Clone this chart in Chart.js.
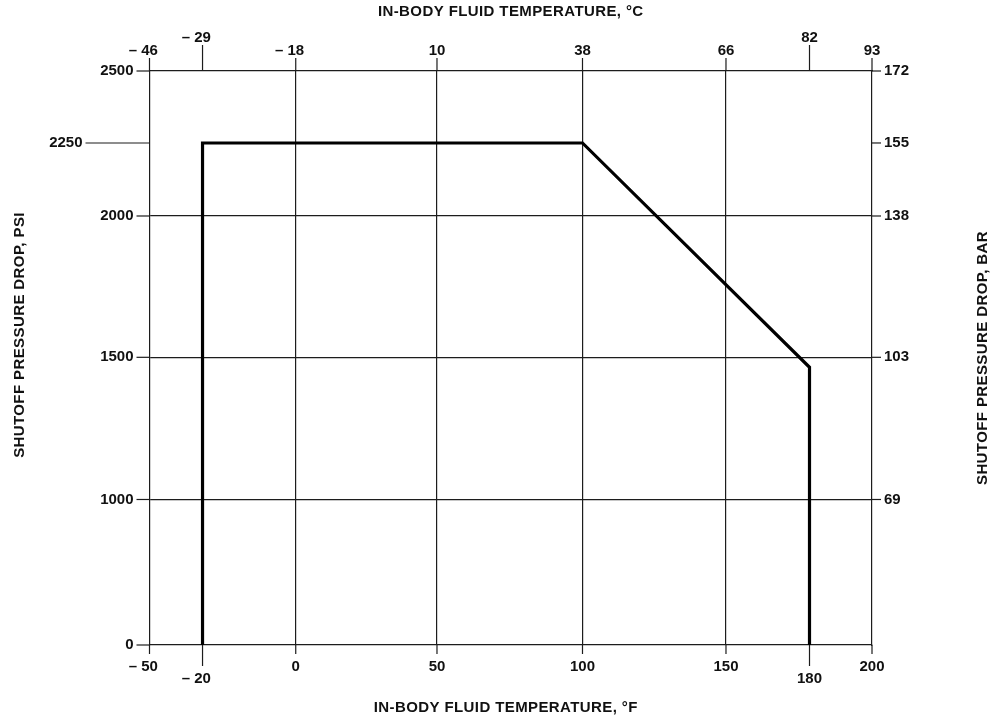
<!DOCTYPE html>
<html>
<head>
<meta charset="utf-8">
<script src="https://cdn.jsdelivr.net/npm/chart.js@4"></script>
<style>
    body { margin: 0; background: #fff; }
    .wrap { width: 993px; height: 719px; position: relative; }
</style>
</head>
<body>
<div class="wrap"><canvas id="shutoffChart"></canvas></div>
<script>
// data
const tempF = [-20, -20, 100, 180, 180];
const shutoffPsi = [0, 2250, 2250, 1465, 0];

// axis ticks
const fTicks = [-50, -20, 0, 50, 100, 150, 180, 200];
const fTickLabels = ['– 50', '– 20', '0', '50', '100', '150', '180', '200'];
const cTickLabels = ['– 46', '– 29', '– 18', '10', '38', '66', '82', '93'];
const psiTicks = [0, 1000, 1500, 2000, 2250, 2500];
const psiTickLabels = ['0', '1000', '1500', '2000', '2250', '2500'];
const barTicks = [1000, 1500, 2000, 2250, 2500];
const barTickLabels = ['69', '103', '138', '155', '172'];

// the printed chart is not evenly spaced, so each scale is piecewise
// (value -> fraction of the axis length)
const axisShapes = {
    temp: {
        values: fTicks,
        fractions: [0, 0.0734, 0.2024, 0.3979, 0.5993, 0.7979, 0.9135, 1],
        grid: [0, 50, 100, 150]
    },
    psi: {
        values: psiTicks,
        fractions: [0, 0.2535, 0.5012, 0.7474, 0.8746, 1],
        grid: [1000, 1500, 2000]
    }
};

function toDecimal(value, shape) {
    const v = shape.values, f = shape.fractions;
    if (value <= v[0]) return f[0];
    for (let i = 1; i < v.length; i++) {
        if (value <= v[i]) {
            const t = (value - v[i - 1]) / (v[i] - v[i - 1]);
            return f[i - 1] + t * (f[i] - f[i - 1]);
        }
    }
    return f[f.length - 1];
}

function fromDecimal(dec, shape) {
    const v = shape.values, f = shape.fractions;
    for (let i = 1; i < f.length; i++) {
        if (dec <= f[i]) {
            const t = (dec - f[i - 1]) / (f[i] - f[i - 1]);
            return v[i - 1] + t * (v[i] - v[i - 1]);
        }
    }
    return v[v.length - 1];
}

class PiecewiseScale extends Chart.LinearScale {
    shape() {
        return axisShapes[this.options.shapeKey];
    }
    buildTicks() {
        return this.shape().grid.map(v => ({ value: v }));
    }
    getPixelForValue(value) {
        return this.getPixelForDecimal(toDecimal(value, this.shape()));
    }
    getValueForPixel(pixel) {
        return fromDecimal(this.getDecimalForPixel(pixel), this.shape());
    }
}
PiecewiseScale.id = 'piecewise';
PiecewiseScale.defaults = Chart.LinearScale.defaults;
Chart.register(PiecewiseScale);

const FONT = 'bold 15px "Liberation Sans", Arial, sans-serif';
const INK = '#111';
const RULE = '#1c1c1c';

function drawLabel(ctx, text, px, py) {
    // digits centred on the tick, a leading minus hangs to the left
    const m = text.match(/^(\D*)(\d+)$/);
    const prefix = m ? m[1] : '';
    const digits = m ? m[2] : text;
    const w = ctx.measureText(digits).width;
    ctx.textAlign = 'center';
    ctx.fillText(digits, px, py);
    if (prefix) {
        ctx.textAlign = 'right';
        ctx.fillText(prefix, px - w / 2, py);
    }
}

function tick(ctx, x1, y1, x2, y2) {
    ctx.beginPath();
    ctx.moveTo(x1, y1);
    ctx.lineTo(x2, y2);
    ctx.stroke();
}

const axisDecor = {
    id: 'axisDecor',
    afterDraw(chart) {
        const { ctx, chartArea: a, scales } = chart;
        const xs = scales.x, ys = scales.y;
        const longTemp = [-20, 180];

        ctx.save();
        ctx.strokeStyle = RULE;
        ctx.lineWidth = 1.2;
        ctx.fillStyle = INK;
        ctx.font = FONT;
        ctx.textBaseline = 'middle';

        fTicks.forEach((v, i) => {
            const px = xs.getPixelForValue(v);
            const isLong = longTemp.includes(v);
            // bottom, °F
            tick(ctx, px, a.bottom, px, a.bottom + (isLong ? 21 : 9));
            drawLabel(ctx, fTickLabels[i], px, a.bottom + (isLong ? 34 : 21.5));
            // top, °C
            tick(ctx, px, a.top, px, a.top - (isLong ? 26 : 13));
            drawLabel(ctx, cTickLabels[i], px, a.top - (isLong ? 33.5 : 20));
        });

        psiTicks.forEach((v, i) => {
            const py = ys.getPixelForValue(v);
            const len = v === 2250 ? 64 : 13;
            tick(ctx, a.left, py, a.left - len, py);
            ctx.textAlign = 'right';
            ctx.fillText(psiTickLabels[i], a.left - len - 3, py);
        });

        barTicks.forEach((v, i) => {
            const py = ys.getPixelForValue(v);
            tick(ctx, a.right, py, a.right + 9, py);
            ctx.textAlign = 'left';
            ctx.fillText(barTickLabels[i], a.right + 12, py);
        });

        // axis titles
        ctx.letterSpacing = '0.4px';
        ctx.textAlign = 'center';
        ctx.fillText('IN-BODY FLUID TEMPERATURE, °C', (a.left + a.right) / 2, 12);
        ctx.fillText('IN-BODY FLUID TEMPERATURE, °F', (a.left + a.right) / 2 - 5, 708);

        ctx.save();
        ctx.translate(20, 335);
        ctx.rotate(-Math.PI / 2);
        ctx.fillText('SHUTOFF PRESSURE DROP, PSI', 0, 0);
        ctx.restore();

        ctx.save();
        ctx.translate(983, 358);
        ctx.rotate(-Math.PI / 2);
        ctx.fillText('SHUTOFF PRESSURE DROP, BAR', 0, 0);
        ctx.restore();

        ctx.restore();
    }
};

const gridOpts = { color: RULE, lineWidth: 1.2, drawTicks: false };
const borderOpts = { display: true, color: RULE, width: 1.2 };

new Chart(document.getElementById('shutoffChart'), {
    type: 'scatter',
    data: {
        datasets: [{
            data: tempF.map((t, i) => ({ x: t, y: shutoffPsi[i] })),
            showLine: true,
            borderColor: '#000',
            borderWidth: 3.2,
            borderJoinStyle: 'miter',
            pointRadius: 0,
            tension: 0,
            fill: false
        }]
    },
    options: {
        responsive: true,
        maintainAspectRatio: false,
        animation: false,
        layout: { padding: { left: 149.5, right: 121, top: 71, bottom: 74 } },
        plugins: {
            legend: { display: false },
            tooltip: { enabled: false }
        },
        scales: {
            x: {
                type: 'piecewise', shapeKey: 'temp', position: 'bottom',
                min: -50, max: 200,
                grid: gridOpts, border: borderOpts,
                ticks: { display: false }
            },
            xTop: {
                type: 'piecewise', shapeKey: 'temp', position: 'top',
                min: -50, max: 200,
                grid: { display: false, drawTicks: false }, border: borderOpts,
                ticks: { display: false }
            },
            y: {
                type: 'piecewise', shapeKey: 'psi', position: 'left',
                min: 0, max: 2500,
                grid: gridOpts, border: borderOpts,
                ticks: { display: false }
            },
            yRight: {
                type: 'piecewise', shapeKey: 'psi', position: 'right',
                min: 0, max: 2500,
                grid: { display: false, drawTicks: false }, border: borderOpts,
                ticks: { display: false }
            }
        }
    },
    plugins: [axisDecor]
});
</script>
</body>
</html>
